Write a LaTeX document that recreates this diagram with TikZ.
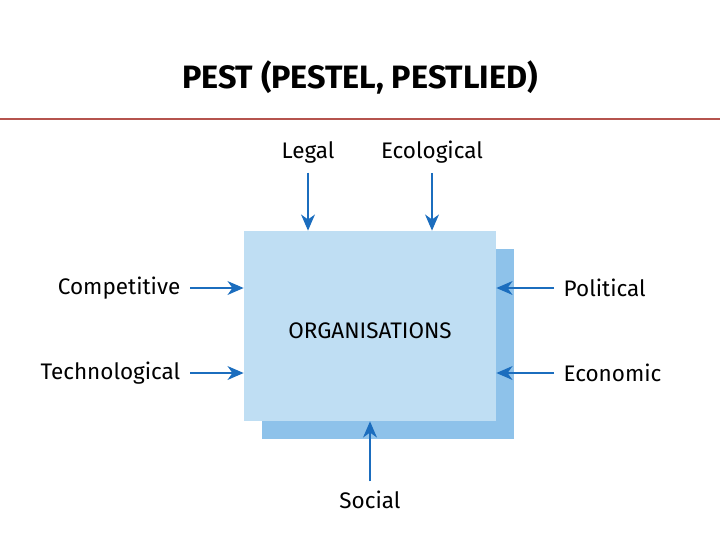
\documentclass[tikz,border=0pt]{standalone}
\usepackage{fontspec}
\setmainfont{Fira Sans}
\usetikzlibrary{arrows.meta,positioning}
\definecolor{boxblue}{HTML}{BFDEF3}
\definecolor{shadowblue}{HTML}{8EC2EA}
\definecolor{arrowblue}{HTML}{1B6DBE}
\definecolor{rulered}{HTML}{B5534D}
\begin{document}
\begin{tikzpicture}[
  x=0.025cm, y=-0.025cm,
  orgbox/.style={rectangle, minimum width=6.3cm, minimum height=4.75cm, inner sep=0pt},
  factor/.style={font=\fontsize{16}{18}\selectfont, inner sep=1pt},
  push/.style={-{Stealth[length=4mm,width=3.4mm,inset=1.2mm]}, line width=2pt, draw=arrowblue, shorten <=0.2cm}
]
\useasboundingbox (0,0) rectangle (720,540);
\node[font=\bfseries\fontsize{23}{27}\selectfont] (title) at (360,77) {PEST (PESTEL, PESTLIED)};
\draw[rulered, line width=0.8pt] (0,119) -- (720,119);

\node[orgbox, fill=shadowblue] (shadow) at (388,344) {};
\node[orgbox, fill=boxblue] (org) at (370,326) {};
\node[factor] (orgname) at (370,331) {ORGANISATIONS};

\node[factor] (legal) at (308,152) {Legal};
\node[factor] (eco) at (432,152) {Ecological};
\node[factor, anchor=east] (comp) at (182,288) {Competitive};
\node[factor, anchor=east] (tech) at (182,373) {Technological};
\node[factor, anchor=west] (pol) at (562,288) {Political};
\node[factor, anchor=west] (econ) at (562,373) {Economic};
\node[factor] (soc) at (370,500) {Social};

\draw[push] (legal.south) -- (legal |- org.north);
\draw[push] (eco.south) -- (eco |- org.north);
\draw[push] (comp.east) -- (comp -| org.west);
\draw[push] (tech.east) -- (tech -| org.west);
\draw[push] (pol.west) -- (pol -| org.east);
\draw[push] (econ.west) -- (econ -| org.east);
\draw[push] (soc.north) -- (soc |- org.south);
\end{tikzpicture}
\end{document}
